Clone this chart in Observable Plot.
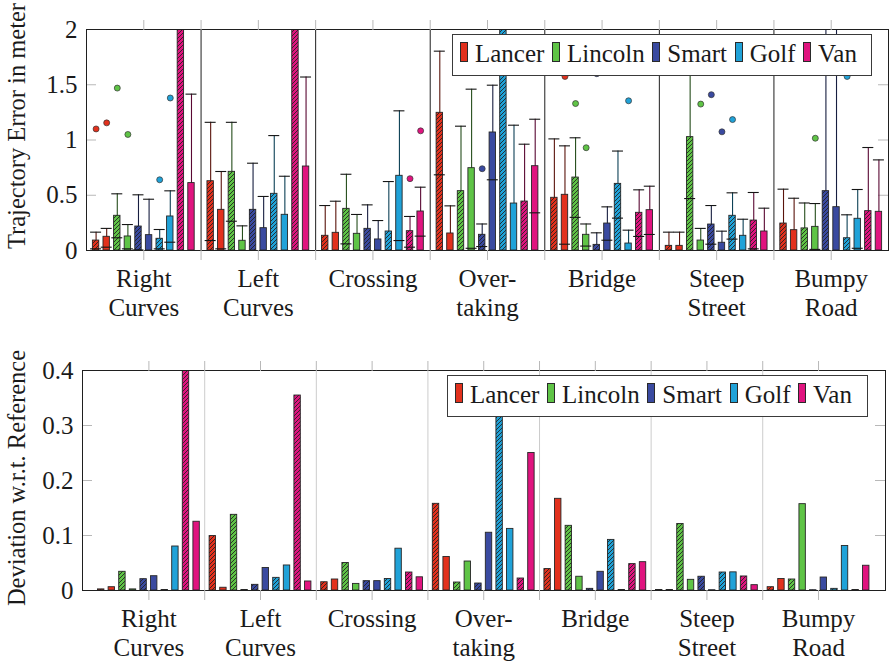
<!DOCTYPE html>
<html><head><meta charset="utf-8">
<script src="https://cdn.jsdelivr.net/npm/d3@7"></script>
<script src="https://cdn.jsdelivr.net/npm/@observablehq/plot@0.6"></script>
<style>
body{margin:0;background:#fff;}
#wrap{position:relative;width:896px;height:663px;overflow:hidden;background:#fff;font-family:"Liberation Serif",serif;color:#1a1a1a;}
#wrap svg{position:absolute;left:0;}
.ytitle{position:absolute;font-size:24.5px;line-height:1;white-space:nowrap;transform:translate(-50%,-50%) rotate(-90deg);}
.legend{position:absolute;box-sizing:border-box;height:42px;border:1px solid #3a3a3a;background:#fff;display:flex;align-items:center;padding-left:7px;padding-bottom:3px;font-size:25px;line-height:1;}
.legend .item{display:flex;align-items:center;margin-right:7.6px;}
.legend .sw{width:6px;height:18px;border:1px solid #2a2a2a;margin-right:7px;position:relative;top:-2px;}
</style></head><body><div id="wrap"></div><script>
// ---------- data ----------
const categories = ["Right\nCurves","Left\nCurves","Crossing","Over-\ntaking","Bridge","Steep\nStreet","Bumpy\nRoad"];
const cars = ["Lancer","Lincoln","Smart","Golf","Van"];
const carColors = ["#e2311d","#5fc446","#3a4aa0","#20a2d8","#e0147f"];
const variants = ["hatched","solid"];
const yTicksTop = [0, 0.5, 1, 1.5, 2];
const yTicksBottom = [0, 0.1, 0.2, 0.3, 0.4];
const topTitle = "Trajectory Error in meter";
const bottomTitle = "Deviation w.r.t. Reference";

// Trajectory error: bar value, lower and upper whisker (per category)
const errMeanLancerHatched = [0.09, 0.627, 0.133, 1.246, 0.477, 0.042, 0.244];
const errLowLancerHatched  = [0.015, 0.09, 0, 0.685, 0, 0, 0];
const errHighLancerHatched = [0.166, 1.16, 0.407, 1.804, 1.01, 0.166, 0.555];
const errMeanLancerSolid = [0.124, 0.368, 0.16, 0.154, 0.504, 0.042, 0.184];
const errLowLancerSolid  = [0.03, 0.015, 0, 0, 0.057, 0, 0];
const errHighLancerSolid = [0.2, 0.715, 0.446, 0.404, 0.947, 0.166, 0.473];
const errMeanLincolnHatched = [0.314, 0.712, 0.377, 0.537, 0.66, 1.026, 0.2];
const errLowLincolnHatched  = [0.115, 0.265, 0.06, 0, 0.3, 0.47, 0];
const errHighLincolnHatched = [0.513, 1.16, 0.69, 1.125, 1.02, 1.75, 0.43];
const errMeanLincolnSolid = [0.127, 0.088, 0.151, 0.745, 0.142, 0.09, 0.214];
const errLowLincolnSolid  = [0.015, 0, 0, 0.02, 0.04, 0, 0.01];
const errHighLincolnSolid = [0.235, 0.223, 0.326, 1.46, 0.24, 0.2, 0.425];
const errMeanSmartHatched = [0.217, 0.368, 0.196, 0.142, 0.051, 0.235, 0.537];
const errLowSmartHatched  = [0.005, 0, 0, 0.036, 0, 0.057, 0];
const errHighSmartHatched = [0.504, 0.79, 0.413, 0.24, 0.16, 0.407, 2.3];
const errMeanSmartSolid = [0.139, 0.202, 0.1, 1.068, 0.244, 0.07, 0.392];
const errLowSmartSolid  = [0, 0, 0, 0.64, 0.093, 0, 0];
const errHighSmartSolid = [0.464, 0.489, 0.271, 1.496, 0.395, 0.175, 2.2];
const errMeanGolfHatched = [0.106, 0.513, 0.172, 2.3, 0.603, 0.314, 0.111];
const errLowGolfHatched  = [0.015, 0, 0, 0, 0.293, 0.103, 0];
const errHighGolfHatched = [0.19, 1.04, 0.624, 2.8, 0.9, 0.522, 0.323];
const errMeanGolfSolid = [0.308, 0.323, 0.676, 0.425, 0.063, 0.133, 0.287];
const errLowGolfSolid  = [0.075, 0, 0.09, 0, 0, 0, 0.02];
const errHighGolfSolid = [0.54, 0.672, 1.264, 1.134, 0.184, 0.283, 0.552];
const errMeanVanHatched = [2.6, 2.6, 0.175, 0.443, 0.341, 0.271, 0.356];
const errLowVanHatched  = [0, 0, 0.03, 0, 0.127, 0.015, 0];
const errHighVanHatched = [3, 3, 0.308, 0.962, 0.549, 0.525, 0.932];
const errMeanVanSolid = [0.61, 0.76, 0.353, 0.763, 0.365, 0.172, 0.35];
const errLowVanSolid  = [0, 0, 0.13, 0.341, 0.145, 0, 0];
const errHighVanSolid = [1.415, 1.57, 0.573, 1.188, 0.582, 0.383, 0.82];

// Trajectory error outliers
const outlierCategory = [0,0,0,0,0,0,2,2,3,4,4,4,4,4,5,5,5,5,6,6];
const outlierCar = ["Lancer","Lancer","Lincoln","Lincoln","Golf","Golf","Van","Van","Smart","Lancer","Smart","Lincoln","Lincoln","Golf","Lincoln","Smart","Smart","Golf","Lincoln","Golf"];
const outlierVariant = ["hatched","solid","hatched","solid","hatched","solid","hatched","solid","hatched","solid","hatched","hatched","solid","solid","solid","hatched","solid","hatched","solid","hatched"];
const outlierValue = [1.10,1.155,1.47,1.05,0.64,1.38,0.65,1.083,0.74,1.575,1.6,1.33,0.93,1.355,1.325,1.41,1.074,1.185,1.016,1.575];

// Deviation w.r.t. reference
const devLancerHatched = [0.002, 0.099, 0.015, 0.1576, 0.039, 0.001, 0.006];
const devLancerSolid = [0.006, 0.005, 0.02, 0.061, 0.1667, 0.001, 0.021];
const devLincolnHatched = [0.034, 0.1376, 0.05, 0.0145, 0.1176, 0.121, 0.02];
const devLincolnSolid = [0.002, 0.001, 0.012, 0.0527, 0.025, 0.0194, 0.157];
const devSmartHatched = [0.0206, 0.0103, 0.017, 0.0127, 0.003, 0.025, 0.0005];
const devSmartSolid = [0.026, 0.041, 0.017, 0.105, 0.034, 0.0005, 0.0236];
const devGolfHatched = [0.001, 0.023, 0.021, 0.36, 0.092, 0.0327, 0.003];
const devGolfSolid = [0.08, 0.0455, 0.076, 0.112, 0.001, 0.033, 0.081];
const devVanHatched = [0.42, 0.3545, 0.0327, 0.0218, 0.048, 0.0255, 0.001];
const devVanSolid = [0.125, 0.0164, 0.024, 0.25, 0.0515, 0.0097, 0.045];

// ---------- assembly ----------
const seriesDefs = [
  ["Lancer","hatched",errMeanLancerHatched,errLowLancerHatched,errHighLancerHatched,devLancerHatched],
  ["Lancer","solid",errMeanLancerSolid,errLowLancerSolid,errHighLancerSolid,devLancerSolid],
  ["Lincoln","hatched",errMeanLincolnHatched,errLowLincolnHatched,errHighLincolnHatched,devLincolnHatched],
  ["Lincoln","solid",errMeanLincolnSolid,errLowLincolnSolid,errHighLincolnSolid,devLincolnSolid],
  ["Smart","hatched",errMeanSmartHatched,errLowSmartHatched,errHighSmartHatched,devSmartHatched],
  ["Smart","solid",errMeanSmartSolid,errLowSmartSolid,errHighSmartSolid,devSmartSolid],
  ["Golf","hatched",errMeanGolfHatched,errLowGolfHatched,errHighGolfHatched,devGolfHatched],
  ["Golf","solid",errMeanGolfSolid,errLowGolfSolid,errHighGolfSolid,devGolfSolid],
  ["Van","hatched",errMeanVanHatched,errLowVanHatched,errHighVanHatched,devVanHatched],
  ["Van","solid",errMeanVanSolid,errLowVanSolid,errHighVanSolid,devVanSolid]
];
const colorOf = car => carColors[cars.indexOf(car)];
const seriesIndex = (car, variant) => cars.indexOf(car) * 2 + variants.indexOf(variant);

const BAR_STEP = 10.6, BAR_HALF = 3.2, CAP_HALF = 5.5;
function place(i, j, ppu) {
  const xc = i + 0.5 + (j - 4.5) * BAR_STEP / ppu;
  return {xc, xb1: xc - BAR_HALF/ppu, xb2: xc + BAR_HALF/ppu, xk1: xc - CAP_HALF/ppu, xk2: xc + CAP_HALF/ppu};
}
function buildRows(ppu) {
  return seriesDefs.flatMap(([car, variant, mean, low, high, dev], j) =>
    categories.map((cat, i) => ({
      i, j, car, variant, color: colorOf(car),
      whisk: d3.interpolateRgb(colorOf(car), "#000")(0.6),
      mean: mean[i], low: low[i], high: high[i], dev: dev[i], ...place(i, j, ppu)
    })));
}

const W = 896;
const halfTicks = d3.range(1, 14).map(k => k / 2);   // 0.5 .. 6.5
const centers = d3.range(7).map(k => k + 0.5);
const seps = d3.range(1, 7);

function addHatch(svg, id) {
  const defs = document.createElementNS("http://www.w3.org/2000/svg", "defs");
  defs.innerHTML = `<pattern id="${id}" patternUnits="userSpaceOnUse" width="4" height="4"><path d="M-1,1 l2,-2 M0,4 l4,-4 M3,5 l2,-2" stroke="#1e1e1e" stroke-width="0.85"/></pattern>`;
  svg.insertBefore(defs, svg.firstChild);
}

function commonAxes(yTicks, plotW, sepColor) {
  return [
    Plot.tickY(yTicks.slice(1, -1), {y: d => d, insetRight: plotW - 10, stroke: "#b8b8b8"}),
    Plot.tickY(yTicks.slice(1, -1), {y: d => d, insetLeft: plotW - 10, stroke: "#b8b8b8"}),
    Plot.ruleX(seps, {x: d => d, stroke: sepColor, strokeWidth: 1}),
  ];
}
function outerAxes(yTicks) {
  return [
    Plot.axisX({anchor: "top", ticks: halfTicks, tickSize: 10, tickFormat: () => "", stroke: "#b8b8b8", label: null}),
    Plot.axisX({anchor: "bottom", ticks: halfTicks, tickSize: 10, tickFormat: () => "", stroke: "#b8b8b8", label: null}),
    Plot.axisX({anchor: "bottom", ticks: centers, tickSize: 0, tickPadding: 15, lineHeight: 1.19,
      tickFormat: v => categories[Math.round(v - 0.5)], fill: "#1a1a1a", label: null}),
    Plot.axisY({anchor: "left", ticks: yTicks, tickSize: 0, tickPadding: 9, tickFormat: d => String(d), fill: "#1a1a1a", label: null}),
  ];
}
const fontStyle = {fontFamily: "'Liberation Serif', serif", fontSize: "25px", background: "transparent", overflow: "visible"};

// ---------- top panel ----------
const topM = {top: 29, bottom: 80, left: 86, right: 8}, topH = 330;
const topPlotW = W - topM.left - topM.right;
const topRows = buildRows(topPlotW / 7);
const outliers = outlierValue.map((v, k) => {
  const j = seriesIndex(outlierCar[k], outlierVariant[k]);
  return {value: v, color: colorOf(outlierCar[k]), ...place(outlierCategory[k], j, topPlotW / 7)};
});
const topSvg = Plot.plot({
  width: W, height: topH,
  marginTop: topM.top, marginBottom: topM.bottom, marginLeft: topM.left, marginRight: topM.right,
  x: {domain: [0, 7]}, y: {domain: [0, 2]}, color: {type: "identity"},
  style: fontStyle,
  marks: [
    ...commonAxes(yTicksTop, topPlotW, "#1f1f1f"),
    Plot.ruleX(topRows, {x: "xc", y1: "low", y2: "high", stroke: "whisk", strokeWidth: 1.1, clip: true}),
    Plot.rect(topRows, {x1: "xb1", x2: "xb2", y1: d => 0, y2: "mean", fill: "color", clip: true}),
    Plot.rect(topRows.filter(d => d.variant === "hatched"), {x1: "xb1", x2: "xb2", y1: d => 0, y2: "mean", fill: "url(#hatchTop)", clip: true}),
    Plot.rect(topRows, {x1: "xb1", x2: "xb2", y1: d => 0, y2: "mean", fill: "none", stroke: "#262626", strokeWidth: 0.9, clip: true}),
    Plot.ruleY(topRows, {x1: "xk1", x2: "xk2", y: "high", stroke: "#151515", strokeWidth: 1.1, clip: true}),
    Plot.ruleY(topRows.filter(d => d.low > 0), {x1: "xk1", x2: "xk2", y: "low", stroke: "#151515", strokeWidth: 1.1, clip: true}),
    Plot.dot(outliers, {x: "xc", y: "value", r: 3, fill: "color", stroke: "#333", strokeWidth: 0.7, clip: true}),
    Plot.frame({stroke: "#1f1f1f"}),
    ...outerAxes(yTicksTop)
  ]
});
addHatch(topSvg, "hatchTop");
topSvg.style.top = "0px";

// ---------- bottom panel ----------
const botM = {top: 40, bottom: 73, left: 82, right: 11}, botH = 333;
const botPlotW = W - botM.left - botM.right;
const xDomBot = [-0.095, 7.1];
const botRows = buildRows(botPlotW / (xDomBot[1] - xDomBot[0]));
const botSvg = Plot.plot({
  width: W, height: botH,
  marginTop: botM.top, marginBottom: botM.bottom, marginLeft: botM.left, marginRight: botM.right,
  x: {domain: xDomBot}, y: {domain: [0, 0.4]}, color: {type: "identity"},
  style: fontStyle,
  marks: [
    ...commonAxes(yTicksBottom, botPlotW, "#cccccc"),
    Plot.rect(botRows, {x1: "xb1", x2: "xb2", y1: d => 0, y2: "dev", fill: "color", clip: true}),
    Plot.rect(botRows.filter(d => d.variant === "hatched"), {x1: "xb1", x2: "xb2", y1: d => 0, y2: "dev", fill: "url(#hatchBot)", clip: true}),
    Plot.rect(botRows, {x1: "xb1", x2: "xb2", y1: d => 0, y2: "dev", fill: "none", stroke: "#262626", strokeWidth: 0.9, clip: true}),
    Plot.frame({stroke: "#1f1f1f"}),
    ...outerAxes(yTicksBottom)
  ]
});
addHatch(botSvg, "hatchBot");
botSvg.style.top = "330px";

// ---------- page ----------
const wrap = document.getElementById("wrap");
wrap.appendChild(topSvg);
wrap.appendChild(botSvg);

function yTitle(text, cx, cy) {
  const d = document.createElement("div");
  d.className = "ytitle"; d.textContent = text;
  d.style.left = cx + "px"; d.style.top = cy + "px";
  wrap.appendChild(d);
}
yTitle(topTitle, 16.6, 126);
yTitle(bottomTitle, 16.6, 478);

function legend(left, top, width) {
  const L = document.createElement("div");
  L.className = "legend";
  L.style.left = left + "px"; L.style.top = top + "px"; L.style.width = width + "px";
  cars.forEach((c, k) => {
    const it = document.createElement("div"); it.className = "item";
    const sw = document.createElement("span"); sw.className = "sw"; sw.style.background = carColors[k];
    const tx = document.createElement("span"); tx.textContent = c;
    it.appendChild(sw); it.appendChild(tx); L.appendChild(it);
  });
  wrap.appendChild(L);
}
legend(452, 34, 420);
legend(447, 375, 421);
</script></body></html>
